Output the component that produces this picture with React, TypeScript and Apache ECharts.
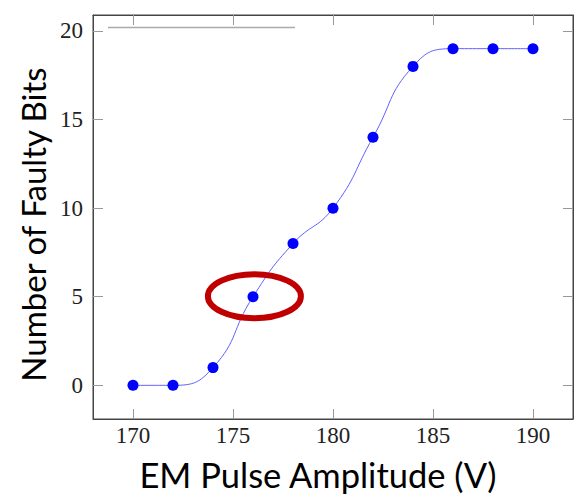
import React, { useEffect, useRef } from "react";
import * as echarts from "echarts";

const amplitudes = [170, 172, 174, 176, 178, 180, 182, 184, 186, 188, 190];
const faultyBits = [0, 0, 1, 5, 8, 10, 14, 18, 19, 19, 19];
const xTicks = [170, 175, 180, 185, 190];
const yTicks = [0, 5, 10, 15, 20];
const highlightedPoint = [176.07, 5.03];
const legendLine = [
  [168.75, 20.2],
  [178.1, 20.2],
];
const xTitle = "EM Pulse Amplitude (V)";
const yTitle = "Number of Faulty Bits";

const X_MIN = 168;
const X_MAX = 192;
const Y_MIN = -1.9;
const Y_MAX = 20.9;

export default function App() {
  const ref = useRef<HTMLDivElement>(null);

  useEffect(() => {
    if (!ref.current) return;
    const chart = echarts.init(ref.current, undefined, { renderer: "svg" });
    const borderColor = "#444";
    const tickStyle = { color: "#999", width: 1 };
    const rich = {
      t: { fontFamily: "Liberation Serif", fontSize: 23, color: "#222" },
    };

    chart.setOption({
      animation: false,
      grid: {
        left: 93,
        top: 15,
        width: 480,
        height: 404,
        containLabel: false,
        show: true,
        borderColor: borderColor,
        borderWidth: 1,
        backgroundColor: "transparent",
      },
      xAxis: [
        {
          type: "value",
          min: X_MIN,
          max: X_MAX,
          position: "bottom",
          splitLine: { show: false },
          axisLine: { show: true, onZero: false, lineStyle: { color: borderColor } },
          axisTick: { show: true, inside: true, length: 10, lineStyle: tickStyle, customValues: xTicks },
          axisLabel: {
            customValues: xTicks,
            fontFamily: "Liberation Serif",
            fontSize: 23,
            color: "#222",
            margin: 5,
            formatter: (v: number) => `{t|${v}}`,
            rich,
          },
        },
        {
          type: "value",
          min: X_MIN,
          max: X_MAX,
          position: "top",
          splitLine: { show: false },
          axisLine: { show: true, onZero: false, lineStyle: { color: borderColor } },
          axisTick: { show: true, inside: true, length: 10, lineStyle: tickStyle, customValues: xTicks },
          axisLabel: { show: false },
        },
      ],
      yAxis: [
        {
          type: "value",
          min: Y_MIN,
          max: Y_MAX,
          position: "left",
          splitLine: { show: false },
          axisLine: { show: true, onZero: false, lineStyle: { color: borderColor } },
          axisTick: { show: true, inside: true, length: 10, lineStyle: tickStyle, customValues: yTicks },
          axisLabel: {
            customValues: yTicks,
            fontFamily: "Liberation Serif",
            fontSize: 23,
            color: "#222",
            margin: 10,
            formatter: (v: number) => `{t|${v}}`,
            rich,
          },
        },
        {
          type: "value",
          min: Y_MIN,
          max: Y_MAX,
          position: "right",
          splitLine: { show: false },
          axisLine: { show: true, onZero: false, lineStyle: { color: borderColor } },
          axisTick: { show: true, inside: true, length: 10, lineStyle: tickStyle, customValues: yTicks },
          axisLabel: { show: false },
        },
      ],
      graphic: [
        {
          type: "text",
          x: 318,
          y: 474,
          style: {
            text: xTitle,
            fontFamily: "Lato",
            fontSize: 34.5,
            fill: "#000",
            align: "center",
            verticalAlign: "middle",
          },
        },
        {
          type: "text",
          x: 33,
          y: 224.5,
          rotation: Math.PI / 2,
          style: {
            text: yTitle,
            fontFamily: "Lato",
            fontSize: 33,
            fill: "#000",
            align: "center",
            verticalAlign: "middle",
          },
        },
      ],
      series: [
        {
          type: "line",
          xAxisIndex: 0,
          yAxisIndex: 0,
          data: legendLine,
          symbol: "none",
          silent: true,
          lineStyle: { color: "#aaa", width: 1.5 },
        },
        {
          type: "line",
          xAxisIndex: 0,
          yAxisIndex: 0,
          data: amplitudes.map((a, i) => [a, faultyBits[i]]),
          smooth: 0.5,
          symbol: "circle",
          symbolSize: 11,
          itemStyle: { color: "#0000ff" },
          lineStyle: { color: "#6060ff", width: 1 },
        },
        {
          type: "custom",
          xAxisIndex: 0,
          yAxisIndex: 0,
          silent: true,
          z: 10,
          data: [highlightedPoint],
          renderItem: (_params: any, api: any) => {
            const p = api.coord([api.value(0), api.value(1)]);
            return {
              type: "ellipse",
              shape: { cx: p[0], cy: p[1], rx: 46.5, ry: 22 },
              style: { fill: "none", stroke: "#c00000", lineWidth: 6 },
            };
          },
        },
      ],
    });

    return () => chart.dispose();
  }, []);

  return (
    <div
      ref={ref}
      style={{ position: "absolute", left: 0, top: 0, width: 587, height: 498 }}
    />
  );
}
